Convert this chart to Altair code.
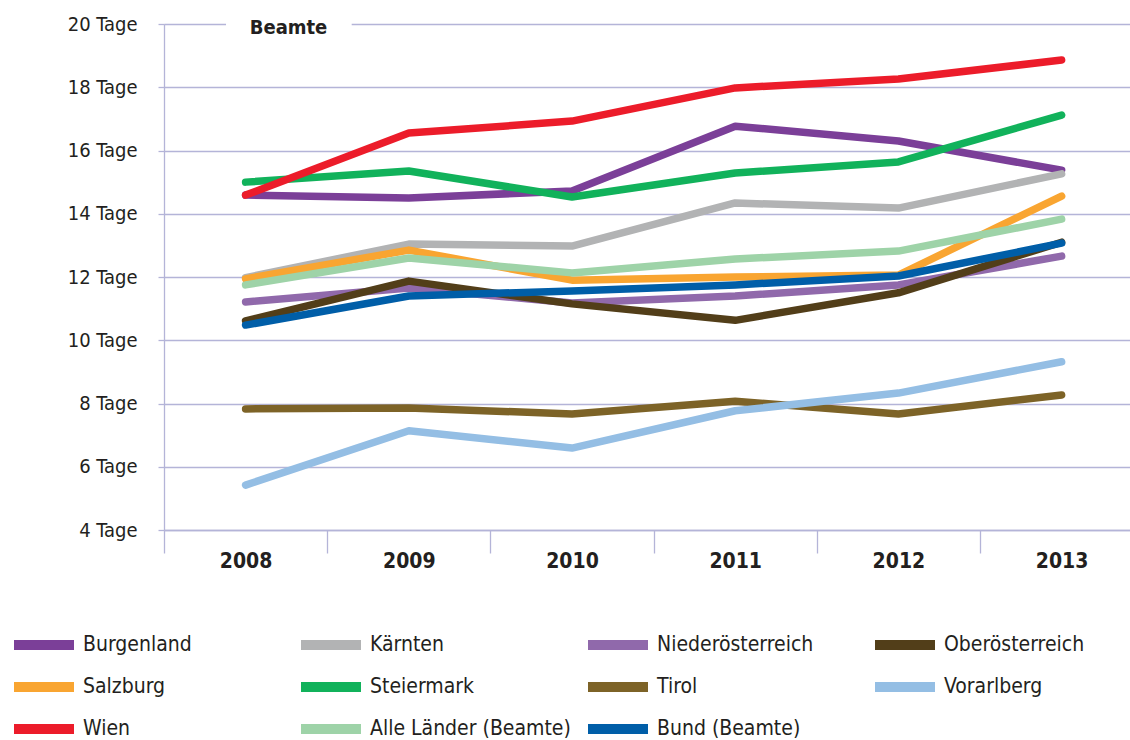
import altair as alt
import pandas as pd

# ---- data -------------------------------------------------------------
years = [2008, 2009, 2010, 2011, 2012, 2013]

series_names = [
    "Burgenland", "Kärnten", "Niederösterreich", "Oberösterreich",
    "Salzburg", "Steiermark", "Tirol", "Vorarlberg",
    "Wien", "Alle Länder (Beamte)", "Bund (Beamte)",
]
series_colors = [
    "#7b3f98", "#b2b3b4", "#9069ab", "#523e19",
    "#f9a531", "#11b25b", "#7d6327", "#94bee4",
    "#ec1c2a", "#9ed3a8", "#005ea8",
]

burgenland = [14.59, 14.50, 14.72, 16.77, 16.30, 15.38]
kaernten = [11.98, 13.04, 12.98, 14.34, 14.18, 15.26]
niederoesterreich = [11.21, 11.65, 11.18, 11.40, 11.75, 12.66]
oberoesterreich = [10.61, 11.87, 11.15, 10.63, 11.50, 13.10]
salzburg = [11.94, 12.85, 11.90, 12.00, 12.06, 14.56]
steiermark = [15.00, 15.35, 14.53, 15.29, 15.64, 17.12]
tirol = [7.83, 7.86, 7.67, 8.07, 7.67, 8.27]
vorarlberg = [5.42, 7.14, 6.59, 7.77, 8.33, 9.32]
wien = [14.59, 16.55, 16.93, 17.98, 18.26, 18.86]
alle_laender = [11.75, 12.60, 12.13, 12.57, 12.82, 13.83]
bund = [10.48, 11.40, 11.56, 11.75, 12.03, 13.07]

all_values = [burgenland, kaernten, niederoesterreich, oberoesterreich,
              salzburg, steiermark, tirol, vorarlberg, wien, alle_laender, bund]

y_ticks = [4, 6, 8, 10, 12, 14, 16, 18, 20]
x_ticks = [2007.5, 2008, 2008.5, 2009, 2009.5, 2010, 2010.5,
           2011, 2011.5, 2012, 2012.5, 2013]
x_domain = [2007.5, 2013.419]

title_text = ["Beamte"]
title_x = [2008.263]
title_y = [20]
title_box_x = [2007.88]
title_box_x2 = [2008.65]
title_box_y = [19.6]
title_box_y2 = [20.4]

# ---- tables -----------------------------------------------------------
rows = []
for name, vals in zip(series_names, all_values):
    for yr, v in zip(years, vals):
        rows.append({"Land": name, "Jahr": yr, "Tage": v})
df = pd.DataFrame(rows)

title_df = pd.DataFrame({"t": title_text, "x": title_x, "y": title_y})
box_df = pd.DataFrame({"x1": title_box_x, "x2": title_box_x2,
                       "y1": title_box_y, "y2": title_box_y2})

FONT = "DejaVu Sans Condensed, Liberation Sans Narrow, DejaVu Sans, sans-serif"
GRID = "#b4b4d8"
TEXT = "#231f20"

x_scale = alt.Scale(domain=x_domain, nice=False, zero=False)
y_scale = alt.Scale(domain=[4, 20], nice=False, zero=False)

lines = alt.Chart(df).mark_line(
    strokeWidth=7.5, strokeCap="round", strokeJoin="round"
).encode(
    x=alt.X("Jahr:Q", scale=x_scale, title=None,
            axis=alt.Axis(
                values=x_ticks,
                labelExpr="datum.value % 1 === 0 ? format(datum.value, 'd') : ''",
                grid=False, domain=True, domainColor=GRID, domainWidth=1.3,
                ticks=True, tickSize=23, tickColor=GRID, tickWidth=1.3,
                tickOpacity={"condition": {"test": "datum.value % 1 === 0", "value": 0}, "value": 1},
                labelFont=FONT, labelFontSize=21, labelFontWeight="bold",
                labelColor=TEXT, labelPadding=-3, labelOverlap=False,
                labelFlush=False, labelBound=False, labelAngle=0,
            )),
    y=alt.Y("Tage:Q", scale=y_scale, title=None,
            axis=alt.Axis(
                values=y_ticks, labelExpr="datum.value + ' Tage'",
                grid=True, gridColor=GRID, gridWidth=1.3,
                domain=True, domainColor=GRID, domainWidth=1.3,
                tickSize=6, tickColor=GRID, tickWidth=1.3,
                labelFont=FONT, labelFontSize=20, labelColor=TEXT,
                labelPadding=21,
            )),
    color=alt.Color("Land:N",
                    scale=alt.Scale(domain=series_names, range=series_colors),
                    sort=series_names,
                    legend=alt.Legend(
                        title=None, orient="none", legendX=-135, legendY=606,
                        columns=4, direction="horizontal", gridAlign="all",
                        symbolType="M-3,0L3,0", symbolSize=400, symbolStrokeWidth=10,
                        labelFont=FONT, labelFontSize=21, labelColor=TEXT,
                        labelOffset=24, columnPadding=-3, rowPadding=2,
                        labelLimit=400,
                    )),
    detail="Land:N",
)

box = alt.Chart(box_df).mark_rect(color="white").encode(
    x=alt.X("x1:Q", scale=x_scale, title=None), x2="x2:Q",
    y=alt.Y("y1:Q", scale=y_scale, title=None), y2="y2:Q",
)

title = alt.Chart(title_df).mark_text(
    font=FONT, fontSize=20, fontWeight="bold", color=TEXT,
    align="center", baseline="middle", dy=4,
).encode(
    x=alt.X("x:Q", scale=x_scale, title=None),
    y=alt.Y("y:Q", scale=y_scale, title=None),
    text="t:N",
)

chart = alt.layer(lines, box, title).properties(
    width=966, height=506,
    autosize=alt.AutoSizeParams(type="none"),
    padding={"left": 164, "top": 24, "right": 0, "bottom": 210},
).configure_view(stroke=None).configure(background="white")

chart.save("out.html", embed_options={"renderer": "svg", "actions": False})
